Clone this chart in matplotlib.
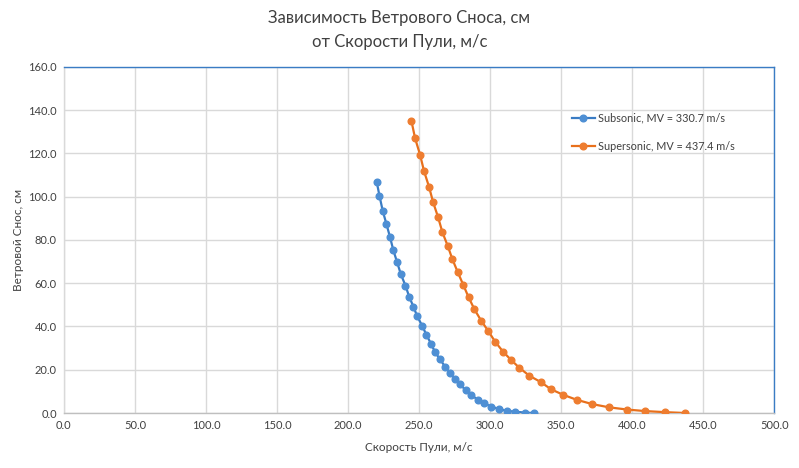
import matplotlib
matplotlib.use("Agg")
import matplotlib.pyplot as plt
from matplotlib.ticker import FormatStrFormatter

plt.rcParams['font.family'] = ['Lato', 'DejaVu Sans']

title = "Зависимость Ветрового Сноса, см\nот Скорости Пули, м/с"
xlabel = "Скорость Пули, м/с"
ylabel = "Ветровой Снос, см"

sub_label = "Subsonic, MV = 330.7 m/s"
sub_x = [330.7, 324.4, 317.6, 312.0, 306.3, 300.9, 296.0, 291.3, 286.9, 282.9,
         278.9, 275.4, 271.8, 268.3, 264.8, 261.3, 258.5, 255.2, 252.3, 248.7,
         246.0, 243.2, 240.4, 237.1, 234.5, 231.9, 229.6, 227.0, 224.4, 222.1, 220.2]
sub_y = [0.0, 0.2, 0.6, 1.0, 1.8, 3.0, 4.4, 6.2, 8.2, 10.5,
         13.2, 15.6, 18.5, 21.4, 24.8, 28.1, 31.9, 36.1, 40.2, 44.7,
         49.2, 53.5, 58.9, 64.3, 69.8, 75.2, 81.2, 87.4, 93.5, 100.5, 106.8]

sup_label = "Supersonic, MV = 437.4 m/s"
sup_x = [437.4, 423.0, 409.0, 396.5, 384.0, 372.0, 361.0, 351.5, 342.8, 335.7,
         327.7, 320.6, 314.8, 309.2, 303.5, 298.8, 293.7, 288.9, 284.8, 281.0,
         277.3, 273.5, 270.2, 266.4, 263.4, 259.9, 257.0, 253.5, 250.7, 247.2, 244.6]
sup_y = [0.0, 0.4, 0.9, 1.6, 2.6, 4.1, 6.1, 8.4, 11.0, 14.3,
         17.2, 20.9, 24.5, 28.3, 33.0, 37.8, 42.7, 48.0, 53.6, 59.4,
         65.0, 71.0, 77.2, 83.6, 90.5, 97.4, 104.6, 111.8, 119.4, 127.0, 135.1]

x_ticks = [0, 50, 100, 150, 200, 250, 300, 350, 400, 450, 500]
y_ticks = [0, 20, 40, 60, 80, 100, 120, 140, 160]

fig = plt.figure(figsize=(7.99, 4.68), dpi=100)
ax = fig.add_axes([0.080, 0.1175, 0.889, 0.7395])

ax.plot(sub_x, sub_y, color='#3A7CC4', lw=1.6, marker='o', ms=4.8,
        mfc='#4E8FD4', mec='#4E8FD4', label=sub_label, zorder=3)
ax.plot(sup_x, sup_y, color='#E8701C', lw=1.6, marker='o', ms=4.8,
        mfc='#EE7D30', mec='#EE7D30', label=sup_label, zorder=3)

ax.set_xlim(0, 500)
ax.set_ylim(0, 160)
ax.set_xticks(x_ticks)
ax.set_yticks(y_ticks)
ax.xaxis.set_major_formatter(FormatStrFormatter('%.1f'))
ax.yaxis.set_major_formatter(FormatStrFormatter('%.1f'))
ax.grid(True, color='#D9D9D9', lw=1.0)
ax.set_axisbelow(True)
ax.tick_params(length=0, labelsize=8, colors='#404040', pad=5)

ax.spines['top'].set_color('#3A7CC4')
ax.spines['right'].set_color('#3A7CC4')
ax.spines['left'].set_color('#D9D9D9')
ax.spines['bottom'].set_color('#BFBFBF')
for s in ax.spines.values():
    s.set_linewidth(1.0)

ax.set_xlabel(xlabel, fontsize=8.5, color='#404040', labelpad=8)
ax.set_ylabel(ylabel, fontsize=8.5, color='#404040', labelpad=3)

fig.text(0.5, 0.978, title, ha='center', va='top', fontsize=12,
         color='#404040', linespacing=1.6)

leg = ax.legend(loc='upper left', bbox_to_anchor=(0.707, 0.884), frameon=False,
                fontsize=7.8, labelspacing=1.6, handlelength=2.2,
                handletextpad=0.2, borderpad=0)
for t in leg.get_texts():
    t.set_color('#404040')

fig.savefig('out.png', dpi=100)
